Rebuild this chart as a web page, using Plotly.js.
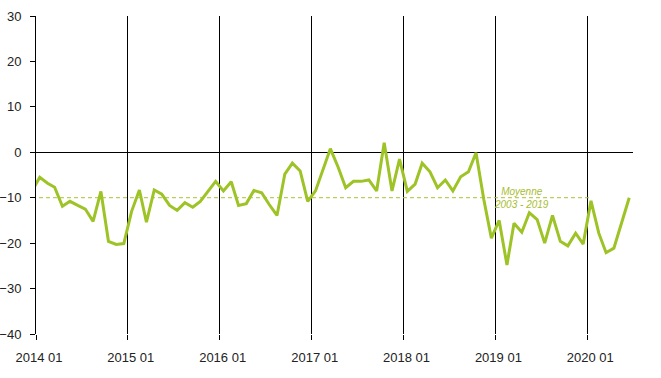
<!DOCTYPE html>
<html>
<head>
<meta charset="utf-8">
<script src="https://cdn.plot.ly/plotly-3.0.1.min.js"></script>
<style>
html,body{margin:0;padding:0;background:#fff;}
#chart{width:661px;height:378px;}
</style>
</head>
<body>
<div id="chart"></div>
<script>
// Monthly series, Dec 2013 .. Jun 2020 (first point lies just left of the axis)
const startYear = 2013, startMonth = 12;
const values = [
  -8.5,                                                          // 2013-12
  -5.5, -6.8, -7.7, -11.9, -10.8, -11.7, -12.5, -15.2, -8.6, -19.6, -20.3, -20.1, // 2014
  -13.0, -8.3, -15.4, -8.3, -9.2, -11.7, -12.8, -11.1, -12.1, -10.8, -8.6, -6.4,  // 2015
  -8.5, -6.5, -11.7, -11.3, -8.4, -8.9, -11.5, -13.9, -4.8, -2.4, -4.1, -10.8,    // 2016
  -8.5, -3.5, 0.8, -3.3, -7.8, -6.4, -6.4, -6.1, -8.5, 2.1, -8.5, -1.5,           // 2017
  -8.6, -7.0, -2.4, -4.3, -7.8, -6.1, -8.5, -5.4, -4.3, -0.1, -10.4, -18.9,       // 2018
  -15.0, -24.8, -15.6, -17.6, -13.3, -14.8, -20.0, -13.9, -19.6, -20.6, -17.8, -20.2, // 2019
  -10.7, -17.8, -22.1, -21.1, -15.5, -10.0                                         // 2020
];
const meanValue = -10;          // Moyenne 2003 - 2019
const meanEndIndex = 73;        // mean line drawn through Jan 2020
const meanLabel = "Moyenne<br>2003 - 2019";
const tickYears = [2014, 2015, 2016, 2017, 2018, 2019, 2020];
const tickLabels = tickYears.map(y => y + " 01");
const yTicks = [-40, -30, -20, -10, 0, 10, 20, 30];

function pad(n){return (n<10?"0":"")+n;}
const dates = values.map((v,i) => {
  const m0 = (startMonth - 1) + i;
  const y = startYear + Math.floor(m0/12);
  const m = (m0 % 12) + 1;
  return y + "-" + pad(m) + "-16";
});
const meanDates = dates.slice(0, meanEndIndex + 1);
const meanVals = meanDates.map(() => meanValue);

const traces = [
  {x: meanDates, y: meanVals, type: "scatter", mode: "lines",
   line: {color: "#aac232", width: 1, dash: "4px,3px"}, hoverinfo: "skip"},
  {x: dates, y: values, type: "scatter", mode: "lines",
   line: {color: "#9dc326", width: 3}, hoverinfo: "skip"}
];

const layout = {
  width: 661, height: 378,
  margin: {l: 36, r: 28, t: 16, b: 44},
  paper_bgcolor: "#fff", plot_bgcolor: "#fff",
  showlegend: false,
  font: {family: "Liberation Sans, Arial, sans-serif", size: 13, color: "#222"},
  xaxis: {
    type: "date",
    range: ["2014-01-01", "2020-07-01"],
    tickmode: "array",
    tickvals: tickYears.map(y => y + "-01-01"),
    ticktext: tickLabels,
    ticks: "outside", ticklen: 5, tickcolor: "#000", tickwidth: 1,
    showgrid: true, gridcolor: "#000", gridwidth: 1,
    showline: false, zeroline: false,
    ticklabelshift: 3,
    ticklabelstandoff: 6,
    tickfont: {size: 13, color: "#222"}
  },
  yaxis: {
    range: [-40, 30],
    tickmode: "array",
    tickvals: yTicks,
    ticks: "outside", ticklen: 5, tickcolor: "#000", tickwidth: 1,
    showgrid: false,
    showline: true, linecolor: "#000", linewidth: 1,
    zeroline: true, zerolinecolor: "#000", zerolinewidth: 1,
    ticklabelstandoff: 6,
    tickfont: {size: 13, color: "#222"}
  },
  annotations: [{
    x: "2019-04-14", y: meanValue, xref: "x", yref: "y",
    text: meanLabel, showarrow: false,
    xanchor: "center", yanchor: "middle",
    font: {family: "Liberation Sans, Arial, sans-serif", size: 10, color: "#a8bd30", style: "italic"}
  }]
};

Plotly.newPlot("chart", traces, layout, {staticPlot: true, displayModeBar: false});
</script>
</body>
</html>
